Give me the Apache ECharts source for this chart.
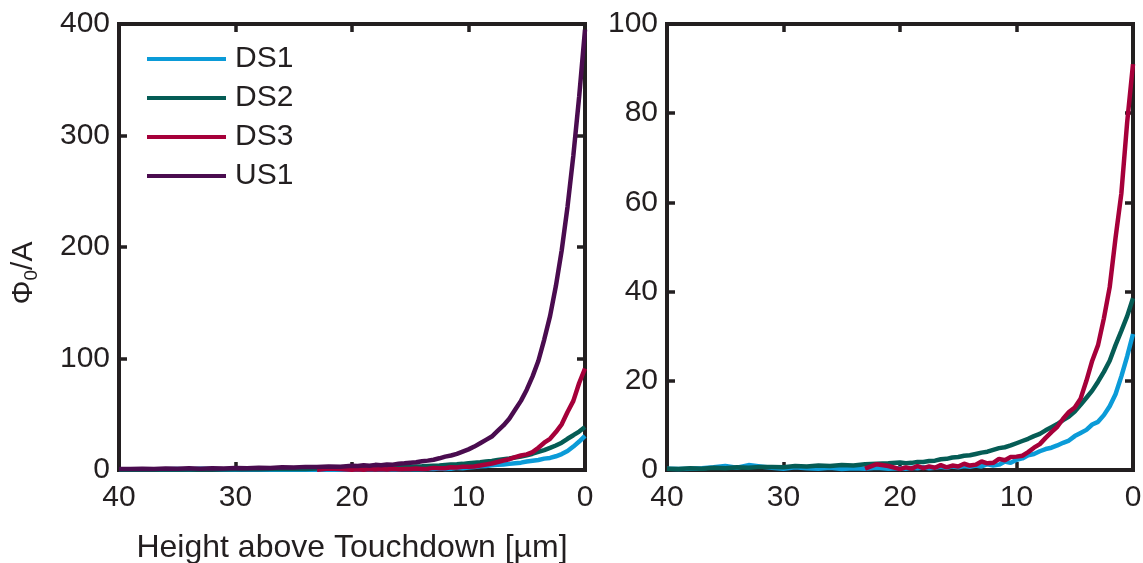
<!DOCTYPE html>
<html><head><meta charset="utf-8">
<script src="https://cdn.jsdelivr.net/npm/echarts@6/dist/echarts.min.js"></script>
<style>html,body{margin:0;padding:0;background:#fff}#c{width:1143px;height:563px}</style>
</head><body><div id="c"></div>
<script>
// Height above touchdown [µm]
const heights = [40,39,38,37,36,35,34,33,32,31,30,29,28,27,26,25,24,23,22,21,20,
  19.5,19,18.5,18,17.5,17,16.5,16,15.5,15,14.5,14,13.5,13,12.5,12,11.5,11,10.5,10,
  9.5,9,8.5,8,7.5,7,6.5,6,5.5,5,4.5,4,3.5,3,2.5,2,1.5,1,0.5,0];
const ds1 = [0.3,0.2,0.3,0.4,0.6,0.9,0.5,1.1,0.8,0.5,0.3,0.6,0.4,0.3,0.5,0.2,0.4,0.3,0.5,0.3,0.4,
  0.3,0.5,0.4,0.6,0.4,0.5,0.7,0.5,0.8,0.6,0.9,0.7,1.0,0.8,1.3,1.0,1.2,1.9,1.6,2.3,
  2.6,3.3,3.6,4.2,4.7,5.0,5.5,6.1,6.6,7.6,8.3,9.0,10.2,10.8,12.3,14.3,17.0,21.0,25.5,30.5];
const ds2 = [0.3,0.2,0.4,0.3,0.5,0.4,0.6,0.5,0.7,0.7,0.6,0.9,0.8,1.0,0.9,1.1,1.0,1.3,1.4,1.5,1.7,
  1.5,1.6,1.8,1.8,2.0,2.1,2.4,2.5,2.8,2.9,3.2,3.3,3.6,3.9,4.1,4.5,4.9,5.1,5.5,6.0,
  6.5,7.0,7.6,8.1,8.9,9.6,10.3,11.2,12.0,13.1,14.6,16.2,17.8,19.8,22.0,24.5,28.0,31.2,34.5,38.5];
const ds3 = [null,null,null,null,null,null,null,null,null,null,null,null,null,null,null,null,null,0.3,1.3,0.9,0.2,
  0.6,0.3,0.9,0.4,0.8,0.5,1.1,0.6,1.0,0.8,1.4,1.0,1.2,1.9,1.5,1.6,2.5,2.2,2.9,3.0,
  3.2,4.0,5.0,5.8,7.2,8.5,9.7,11.5,13.0,14.0,16.0,20.0,24.5,28.0,34.0,41.0,52.0,62.0,78.0,91.0];
const us1 = [1.0,0.8,1.2,0.9,1.3,1.1,1.5,1.2,1.6,1.4,1.8,1.5,2.0,1.9,2.4,2.2,2.8,2.6,3.2,3.0,3.8,
  3.5,4.2,3.9,4.6,4.3,5.0,4.8,5.6,6.0,6.6,7.0,7.8,8.4,9.2,10.5,12.0,13.0,14.5,16.5,18.5,
  21,24,27,30,35,40,46,54,62,72,84,98,117,138,165,197,236,282,335,395];

const seriesNames = ['DS1','DS2','DS3','US1'];
const seriesColors = ['#0b9bd8','#055c55','#a6003a','#4a0c4f'];
const leftYMax = 400, leftYStep = 100;
const rightYMax = 100, rightYStep = 20;
const xMax = 40, xStep = 10;
const xTitle = 'Height above Touchdown [µm]';

const INK = '#231f20';
const FONT = '"Liberation Sans", Arial, Helvetica, sans-serif';
const pairs = v => heights.map((h, i) => [h, v[i] === null ? '-' : v[i]]);

function xAx(grid, pos, labels) {
  return {
    gridIndex: grid, type: 'value', min: 0, max: xMax, interval: xStep, inverse: true, position: pos,
    axisLine: {show: false, onZero: false},
    axisTick: {show: true, inside: true, length: 8, lineStyle: {color: INK, width: 3.5}},
    axisLabel: {show: labels, fontSize: 30, color: INK, fontFamily: FONT, margin: 13},
    splitLine: {show: false}
  };
}
function yAx(grid, pos, max, step, labels) {
  return {
    gridIndex: grid, type: 'value', min: 0, max: max, interval: step, position: pos,
    axisLine: {show: false, onZero: false},
    axisTick: {show: true, inside: true, length: 8, lineStyle: {color: INK, width: 3.5}},
    axisLabel: {show: labels, fontSize: 30, color: INK, fontFamily: FONT, margin: 9},
    splitLine: {show: false}
  };
}

const xAxes = [xAx(0, 'bottom', true), xAx(0, 'top', false), xAx(1, 'bottom', true), xAx(1, 'top', false)];
xAxes[0].name = xTitle;
xAxes[0].nameLocation = 'middle';
xAxes[0].nameGap = 62;
xAxes[0].nameTextStyle = {fontSize: 32, color: INK, fontFamily: FONT};

const yAxes = [yAx(0, 'left', leftYMax, leftYStep, true), yAx(0, 'right', leftYMax, leftYStep, false),
               yAx(1, 'left', rightYMax, rightYStep, true), yAx(1, 'right', rightYMax, rightYStep, false)];
yAxes[0].name = '{a|Φ}{s|0}{a|/A}';
yAxes[0].nameLocation = 'middle';
yAxes[0].nameGap = 78;
yAxes[0].nameRotate = 90;
yAxes[0].nameTextStyle = {
  color: INK, fontFamily: FONT, padding: [0, 52, 0, 0],
  rich: {
    a: {fontSize: 30, color: INK, fontFamily: FONT},
    s: {fontSize: 19, color: INK, fontFamily: FONT, padding: [16, 0, 0, 0]}
  }
};

const allData = [ds1, ds2, ds3, us1];
const series = [];
allData.forEach((d, k) => {
  series.push({
    name: seriesNames[k], type: 'line', xAxisIndex: 0, yAxisIndex: 0,
    data: pairs(d), showSymbol: false, symbol: 'none', connectNulls: false,
    lineStyle: {width: 4.5, color: seriesColors[k]}, itemStyle: {color: seriesColors[k]},
    emphasis: {disabled: true}, z: 2 + k
  });
});
[0, 1, 2].forEach(k => {
  series.push({
    name: seriesNames[k], type: 'line', xAxisIndex: 2, yAxisIndex: 2,
    data: pairs(allData[k]), showSymbol: false, symbol: 'none',
    lineStyle: {width: 4.5, color: seriesColors[k]}, itemStyle: {color: seriesColors[k]},
    emphasis: {disabled: true}, z: 2 + k
  });
});

const chart = echarts.init(document.getElementById('c'), null, {renderer: 'canvas'});
chart.setOption({
  animation: false,
  backgroundColor: '#fff',
  grid: [
    {left: 119, top: 24, width: 466, height: 446, show: true, borderColor: INK, borderWidth: 4, backgroundColor: 'transparent', containLabel: false, outerBoundsMode: 'none'},
    {left: 667, top: 24, width: 466, height: 446, show: true, borderColor: INK, borderWidth: 4, backgroundColor: 'transparent', containLabel: false, outerBoundsMode: 'none'}
  ],
  legend: {
    data: seriesNames, orient: 'vertical', left: 147, top: 44, padding: 0,
    icon: 'rect', itemWidth: 79, itemHeight: 4, itemGap: 9,
    textStyle: {fontSize: 30, lineHeight: 30, color: INK, fontFamily: FONT, padding: [0, 0, 0, 4]}
  },
  xAxis: xAxes,
  yAxis: yAxes,
  series: series
});
</script>
</body></html>
